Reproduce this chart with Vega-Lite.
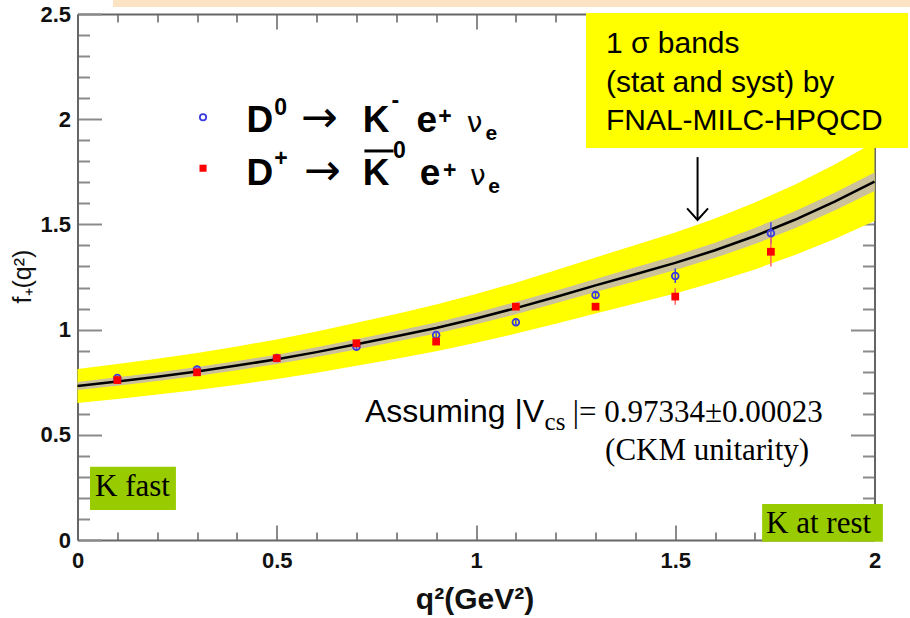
{
  "$schema": "https://vega.github.io/schema/vega-lite/v6.json",
  "width": 797,
  "height": 526,
  "autosize": {"type": "none"},
  "padding": {"left": 77.5, "top": 14, "right": 35.5, "bottom": 78},
  "background": "white",
  "config": {
    "view": {"stroke": null},
    "axis": {
      "grid": false,
      "domainColor": "#666666",
      "domainWidth": 2,
      "tickColor": "#8a8a8a",
      "tickWidth": 2,
      "labelColor": "#111111",
      "labelFont": "Liberation Sans",
      "labelFontWeight": "bold",
      "labelFontSize": 22,
      "labelOverlap": false,
      "labelFlush": false,
      "labelBound": false,
      "titleColor": "#111111",
      "titleFont": "Liberation Sans",
      "zindex": 0
    },
    "text": {"align": "left", "baseline": "alphabetic", "color": "black"}
  },
  "datasets": {
    "curve": [
      {"q": 0.0, "f": 0.732, "ylo": 0.651, "yhi": 0.813, "glo": 0.713, "ghi": 0.751},
      {"q": 0.1, "f": 0.753, "ylo": 0.670, "yhi": 0.836, "glo": 0.733, "ghi": 0.773},
      {"q": 0.2, "f": 0.776, "ylo": 0.691, "yhi": 0.861, "glo": 0.756, "ghi": 0.796},
      {"q": 0.3, "f": 0.801, "ylo": 0.713, "yhi": 0.889, "glo": 0.780, "ghi": 0.822},
      {"q": 0.4, "f": 0.829, "ylo": 0.738, "yhi": 0.920, "glo": 0.807, "ghi": 0.851},
      {"q": 0.5, "f": 0.859, "ylo": 0.765, "yhi": 0.953, "glo": 0.837, "ghi": 0.881},
      {"q": 0.6, "f": 0.893, "ylo": 0.795, "yhi": 0.991, "glo": 0.870, "ghi": 0.916},
      {"q": 0.7, "f": 0.930, "ylo": 0.828, "yhi": 1.032, "glo": 0.906, "ghi": 0.954},
      {"q": 0.8, "f": 0.968, "ylo": 0.862, "yhi": 1.074, "glo": 0.943, "ghi": 0.993},
      {"q": 0.9, "f": 1.008, "ylo": 0.897, "yhi": 1.119, "glo": 0.982, "ghi": 1.034},
      {"q": 1.0, "f": 1.053, "ylo": 0.937, "yhi": 1.169, "glo": 1.026, "ghi": 1.080},
      {"q": 1.1, "f": 1.102, "ylo": 0.981, "yhi": 1.223, "glo": 1.073, "ghi": 1.131},
      {"q": 1.2, "f": 1.155, "ylo": 1.028, "yhi": 1.282, "glo": 1.125, "ghi": 1.185},
      {"q": 1.3, "f": 1.210, "ylo": 1.077, "yhi": 1.343, "glo": 1.179, "ghi": 1.241},
      {"q": 1.4, "f": 1.263, "ylo": 1.124, "yhi": 1.402, "glo": 1.230, "ghi": 1.296},
      {"q": 1.5, "f": 1.317, "ylo": 1.172, "yhi": 1.462, "glo": 1.283, "ghi": 1.351},
      {"q": 1.6, "f": 1.377, "ylo": 1.226, "yhi": 1.528, "glo": 1.341, "ghi": 1.413},
      {"q": 1.7, "f": 1.445, "ylo": 1.286, "yhi": 1.604, "glo": 1.407, "ghi": 1.483},
      {"q": 1.8, "f": 1.522, "ylo": 1.355, "yhi": 1.689, "glo": 1.482, "ghi": 1.562},
      {"q": 1.9, "f": 1.608, "ylo": 1.431, "yhi": 1.785, "glo": 1.566, "ghi": 1.650},
      {"q": 2.0, "f": 1.703, "ylo": 1.516, "yhi": 1.890, "glo": 1.659, "ghi": 1.747}
    ],
    "d0": [
      {"q": 0.1, "f": 0.770, "lo": 0.760, "hi": 0.780},
      {"q": 0.3, "f": 0.810, "lo": 0.800, "hi": 0.820},
      {"q": 0.5, "f": 0.865, "lo": 0.855, "hi": 0.875},
      {"q": 0.7, "f": 0.919, "lo": 0.909, "hi": 0.929},
      {"q": 0.9, "f": 0.974, "lo": 0.962, "hi": 0.986},
      {"q": 1.1, "f": 1.035, "lo": 1.022, "hi": 1.048},
      {"q": 1.3, "f": 1.164, "lo": 1.148, "hi": 1.180},
      {"q": 1.5, "f": 1.255, "lo": 1.222, "hi": 1.290},
      {"q": 1.74, "f": 1.458, "lo": 1.408, "hi": 1.510}
    ],
    "dp": [
      {"q": 0.1, "f": 0.760, "lo": 0.750, "hi": 0.770},
      {"q": 0.3, "f": 0.797, "lo": 0.787, "hi": 0.807},
      {"q": 0.5, "f": 0.864, "lo": 0.854, "hi": 0.874},
      {"q": 0.7, "f": 0.935, "lo": 0.924, "hi": 0.946},
      {"q": 0.9, "f": 0.943, "lo": 0.931, "hi": 0.955},
      {"q": 1.1, "f": 1.109, "lo": 1.095, "hi": 1.123},
      {"q": 1.3, "f": 1.109, "lo": 1.093, "hi": 1.125},
      {"q": 1.5, "f": 1.157, "lo": 1.118, "hi": 1.196},
      {"q": 1.74, "f": 1.370, "lo": 1.300, "hi": 1.440}
    ]
  },
  "resolve": {"scale": {"x": "independent", "y": "independent"}},
  "layer": [
    {
      "layer": [
        {
          "data": {"name": "curve"},
          "mark": {"type": "area", "color": "#ffff00", "opacity": 1},
          "encoding": {
            "x": {"field": "q", "type": "quantitative", "scale": {"domain": [0, 2], "nice": false, "zero": false}, "axis": null},
            "y": {"field": "ylo", "type": "quantitative", "scale": {"domain": [0, 2.5], "nice": false, "zero": false}, "axis": null},
            "y2": {"field": "yhi"}
          }
        },
        {
          "data": {"name": "curve"},
          "mark": {"type": "area", "color": "#cbc29c", "opacity": 1},
          "encoding": {
            "x": {"field": "q", "type": "quantitative", "axis": null},
            "y": {"field": "glo", "type": "quantitative", "axis": null},
            "y2": {"field": "ghi"}
          }
        },
        {
          "data": {"name": "curve"},
          "mark": {"type": "line", "color": "black", "strokeWidth": 2.5},
          "encoding": {
            "x": {"field": "q", "type": "quantitative", "axis": null},
            "y": {"field": "f", "type": "quantitative", "axis": null}
          }
        },
        {
          "data": {"name": "d0"},
          "mark": {"type": "rule", "color": "#4444dd", "strokeWidth": 1.5},
          "encoding": {
            "x": {"field": "q", "type": "quantitative", "axis": null},
            "y": {"field": "lo", "type": "quantitative", "axis": null},
            "y2": {"field": "hi"}
          }
        },
        {
          "data": {"name": "d0"},
          "mark": {"type": "point", "shape": "circle", "filled": false, "color": "#3a3ae0", "strokeWidth": 1.8, "size": 45, "opacity": 1},
          "encoding": {
            "x": {"field": "q", "type": "quantitative", "axis": null},
            "y": {"field": "f", "type": "quantitative", "axis": null}
          }
        },
        {
          "data": {"name": "dp"},
          "mark": {"type": "rule", "color": "#ff6666", "strokeWidth": 1.5},
          "encoding": {
            "x": {"field": "q", "type": "quantitative", "axis": null},
            "y": {"field": "lo", "type": "quantitative", "axis": null},
            "y2": {"field": "hi"}
          }
        },
        {
          "data": {"name": "dp"},
          "mark": {"type": "point", "shape": "square", "filled": true, "color": "#ff0000", "size": 60, "opacity": 1},
          "encoding": {
            "x": {"field": "q", "type": "quantitative", "axis": null},
            "y": {"field": "f", "type": "quantitative", "axis": null}
          }
        },
        {
          "data": {"values": [{"x": 1.556, "y": 1.820, "y2": 1.525}]},
          "mark": {"type": "rule", "color": "black", "strokeWidth": 2},
          "encoding": {
            "x": {"field": "x", "type": "quantitative", "axis": null},
            "y": {"field": "y", "type": "quantitative", "axis": null},
            "y2": {"field": "y2"}
          }
        },
        {
          "data": {"values": [{"x": 1.556, "y": 1.521}]},
          "mark": {"type": "point", "shape": "M-1,-1.1L0,0L1,-1.1", "filled": false, "color": "black", "strokeWidth": 2, "size": 440, "opacity": 1},
          "encoding": {
            "x": {"field": "x", "type": "quantitative", "axis": null},
            "y": {"field": "y", "type": "quantitative", "axis": null}
          }
        },
        {
          "data": {"values": [{"x": 1.276, "x2": 2.084, "y": 1.863, "y2": 2.505}]},
          "mark": {"type": "rect", "color": "#ffff00"},
          "encoding": {
            "x": {"field": "x", "type": "quantitative", "axis": null},
            "x2": {"field": "x2"},
            "y": {"field": "y", "type": "quantitative", "axis": null},
            "y2": {"field": "y2"}
          }
        },
        {
          "data": {"values": [{"x": 0.089, "x2": 2.09, "y": 2.533, "y2": 2.567}]},
          "mark": {"type": "rect", "color": "#fbe3c4"},
          "encoding": {
            "x": {"field": "x", "type": "quantitative", "axis": null},
            "x2": {"field": "x2"},
            "y": {"field": "y", "type": "quantitative", "axis": null},
            "y2": {"field": "y2"}
          }
        },
        {
          "data": {"values": [
            {"x": 0.0314, "x2": 0.247, "y": 0.143, "y2": 0.348},
            {"x": 1.718, "x2": 2.021, "y": -0.008, "y2": 0.171}
          ]},
          "mark": {"type": "rect", "color": "#99cc00"},
          "encoding": {
            "x": {"field": "x", "type": "quantitative", "axis": null},
            "x2": {"field": "x2"},
            "y": {"field": "y", "type": "quantitative", "axis": null},
            "y2": {"field": "y2"}
          }
        },
        {
          "data": {"values": [
            {"x": 1.326, "y": 2.315, "t": "1 σ bands"},
            {"x": 1.326, "y": 2.131, "t": "(stat and syst) by"},
            {"x": 1.326, "y": 1.949, "t": "FNAL-MILC-HPQCD"}
          ]},
          "mark": {"type": "text", "font": "Liberation Sans", "fontSize": 30},
          "encoding": {
            "x": {"field": "x", "type": "quantitative", "axis": null},
            "y": {"field": "y", "type": "quantitative", "axis": null},
            "text": {"field": "t"}
          }
        },
        {
          "data": {"values": [
            {"x": 0.044, "y": 0.209, "t": "K fast"},
            {"x": 1.728, "y": 0.033, "t": "K at rest"},
            {"x": 1.243, "y": 0.562, "t": "|= 0.97334±0.00023"},
            {"x": 1.324, "y": 0.380, "t": "(CKM unitarity)"}
          ]},
          "mark": {"type": "text", "font": "Liberation Serif", "fontSize": 31},
          "encoding": {
            "x": {"field": "x", "type": "quantitative", "axis": null},
            "y": {"field": "y", "type": "quantitative", "axis": null},
            "text": {"field": "t"}
          }
        },
        {
          "data": {"values": [
            {"x": 0.7215, "y": 0.562, "t": "Assuming |V"}
          ]},
          "mark": {"type": "text", "font": "Liberation Sans", "fontSize": 32},
          "encoding": {
            "x": {"field": "x", "type": "quantitative", "axis": null},
            "y": {"field": "y", "type": "quantitative", "axis": null},
            "text": {"field": "t"}
          }
        },
        {
          "data": {"values": [{"x": 1.172, "y": 0.523, "t": "cs"}]},
          "mark": {"type": "text", "font": "Liberation Serif", "fontSize": 25},
          "encoding": {
            "x": {"field": "x", "type": "quantitative", "axis": null},
            "y": {"field": "y", "type": "quantitative", "axis": null},
            "text": {"field": "t"}
          }
        },
        {
          "data": {"values": [{"x": 0.315, "y": 2.009}]},
          "mark": {"type": "point", "shape": "circle", "filled": false, "color": "#3a3ae0", "strokeWidth": 1.8, "size": 40, "opacity": 1},
          "encoding": {
            "x": {"field": "x", "type": "quantitative", "axis": null},
            "y": {"field": "y", "type": "quantitative", "axis": null}
          }
        },
        {
          "data": {"values": [{"x": 0.315, "y": 1.767}]},
          "mark": {"type": "point", "shape": "square", "filled": true, "color": "#ff0000", "size": 50, "opacity": 1},
          "encoding": {
            "x": {"field": "x", "type": "quantitative", "axis": null},
            "y": {"field": "y", "type": "quantitative", "axis": null}
          }
        },
        {
          "data": {"values": [
            {"x": 0.424, "y": 1.941, "t": "D"},
            {"x": 0.716, "y": 1.941, "t": "K"},
            {"x": 0.851, "y": 1.941, "t": "e"},
            {"x": 0.424, "y": 1.687, "t": "D"},
            {"x": 0.716, "y": 1.687, "t": "K"},
            {"x": 0.859, "y": 1.687, "t": "e"}
          ]},
          "mark": {"type": "text", "font": "Liberation Sans", "fontWeight": "bold", "fontSize": 37},
          "encoding": {
            "x": {"field": "x", "type": "quantitative", "axis": null},
            "y": {"field": "y", "type": "quantitative", "axis": null},
            "text": {"field": "t"}
          }
        },
        {
          "data": {"values": [
            {"x": 0.494, "y": 2.020, "t": "0"},
            {"x": 0.788, "y": 2.052, "t": "-"},
            {"x": 0.905, "y": 1.975, "t": "+"},
            {"x": 0.494, "y": 1.778, "t": "+"},
            {"x": 0.792, "y": 1.816, "t": "0"},
            {"x": 0.917, "y": 1.722, "t": "+"}
          ]},
          "mark": {"type": "text", "font": "Liberation Sans", "fontWeight": "bold", "fontSize": 23},
          "encoding": {
            "x": {"field": "x", "type": "quantitative", "axis": null},
            "y": {"field": "y", "type": "quantitative", "axis": null},
            "text": {"field": "t"}
          }
        },
        {
          "data": {"values": [
            {"x": 1.024, "y": 1.901, "t": "e"},
            {"x": 1.031, "y": 1.648, "t": "e"}
          ]},
          "mark": {"type": "text", "font": "Liberation Sans", "fontWeight": "bold", "fontSize": 21},
          "encoding": {
            "x": {"field": "x", "type": "quantitative", "axis": null},
            "y": {"field": "y", "type": "quantitative", "axis": null},
            "text": {"field": "t"}
          }
        },
        {
          "data": {"values": [
            {"x": 0.977, "y": 1.941, "t": "ν"},
            {"x": 0.985, "y": 1.687, "t": "ν"}
          ]},
          "mark": {"type": "text", "font": "DejaVu Sans", "fontSize": 28},
          "encoding": {
            "x": {"field": "x", "type": "quantitative", "axis": null},
            "y": {"field": "y", "type": "quantitative", "axis": null},
            "text": {"field": "t"}
          }
        },
        {
          "data": {"values": [
            {"x": 0.560, "y": 1.941, "t": "→"},
            {"x": 0.568, "y": 1.687, "t": "→"}
          ]},
          "mark": {"type": "text", "font": "DejaVu Sans", "fontSize": 44},
          "encoding": {
            "x": {"field": "x", "type": "quantitative", "axis": null},
            "y": {"field": "y", "type": "quantitative", "axis": null},
            "text": {"field": "t"}
          }
        },
        {
          "data": {"values": [{"x": 0.720, "x2": 0.793, "y": 1.849}]},
          "mark": {"type": "rule", "color": "black", "strokeWidth": 3},
          "encoding": {
            "x": {"field": "x", "type": "quantitative", "axis": null},
            "x2": {"field": "x2"},
            "y": {"field": "y", "type": "quantitative", "axis": null}
          }
        }
      ]
    },
    {
      "data": {"values": [{"q": 0, "f": 0}]},
      "mark": {"type": "point", "opacity": 0},
      "encoding": {
        "x": {"field": "q", "type": "quantitative", "scale": {"domain": [0, 2], "nice": false, "zero": false},
          "axis": {
            "orient": "bottom",
            "values": [0,0.1,0.2,0.3,0.4,0.5,0.6,0.7,0.8,0.9,1,1.1,1.2,1.3,1.4,1.5,1.6,1.7,1.8,1.9,2],
            "labelExpr": "round(datum.value*10) % 5 === 0 ? format(datum.value, '~g') : ''",
            "tickSize": {"condition": {"test": "round(datum.value*10) % 5 === 0", "value": -15}, "value": -8},
            "labelPadding": 25,
            "labelFontSize": 22,
            "labelFontWeight": "bold",
            "labelOverlap": false,
            "labelFlush": false,
            "title": "q²(GeV²)",
            "titleFontSize": 30,
            "titleFontWeight": "bold",
            "titleX": 397,
            "titleY": 68,
            "titleBaseline": "alphabetic"
          }},
        "y": {"field": "f", "type": "quantitative", "scale": {"domain": [0, 2.5], "nice": false, "zero": false},
          "axis": {
            "orient": "left",
            "values": [0,0.1,0.2,0.3,0.4,0.5,0.6,0.7,0.8,0.9,1,1.1,1.2,1.3,1.4,1.5,1.6,1.7,1.8,1.9,2,2.1,2.2,2.3,2.4,2.5],
            "labelExpr": "round(datum.value*10) % 5 === 0 ? format(datum.value, '~g') : ''",
            "tickSize": {"condition": {"test": "round(datum.value*10) % 5 === 0", "value": -24}, "value": -12},
            "labelPadding": 31,
            "labelFontSize": 22,
            "labelFontWeight": "bold",
            "labelOverlap": false,
            "labelFlush": false,
            "title": "f₊(q²)",
            "titleFontSize": 25,
            "titleFontWeight": "normal",
            "titleX": -47,
            "titleY": 262,
            "titleBaseline": "alphabetic"
          }}
      }
    },
    {
      "data": {"values": [{"q": 0, "f": 0}]},
      "mark": {"type": "point", "opacity": 0},
      "encoding": {
        "x": {"field": "q", "type": "quantitative", "scale": {"domain": [0, 2], "nice": false, "zero": false},
          "axis": {
            "orient": "top",
            "values": [0,0.1,0.2,0.3,0.4,0.5,0.6,0.7,0.8,0.9,1,1.1,1.2,1.3,1.4,1.5,1.6,1.7,1.8,1.9,2],
            "labels": false,
            "title": null,
            "tickSize": {"condition": {"test": "round(datum.value*10) % 5 === 0", "value": -15}, "value": -8}
          }},
        "y": {"field": "f", "type": "quantitative", "scale": {"domain": [0, 2.5], "nice": false, "zero": false},
          "axis": {
            "orient": "right",
            "values": [0,0.1,0.2,0.3,0.4,0.5,0.6,0.7,0.8,0.9,1,1.1,1.2,1.3,1.4,1.5,1.6,1.7,1.8,1.9,2,2.1,2.2,2.3,2.4,2.5],
            "labels": false,
            "title": null,
            "tickSize": {"condition": {"test": "round(datum.value*10) % 5 === 0", "value": -24}, "value": -12}
          }}
      }
    }
  ]
}
